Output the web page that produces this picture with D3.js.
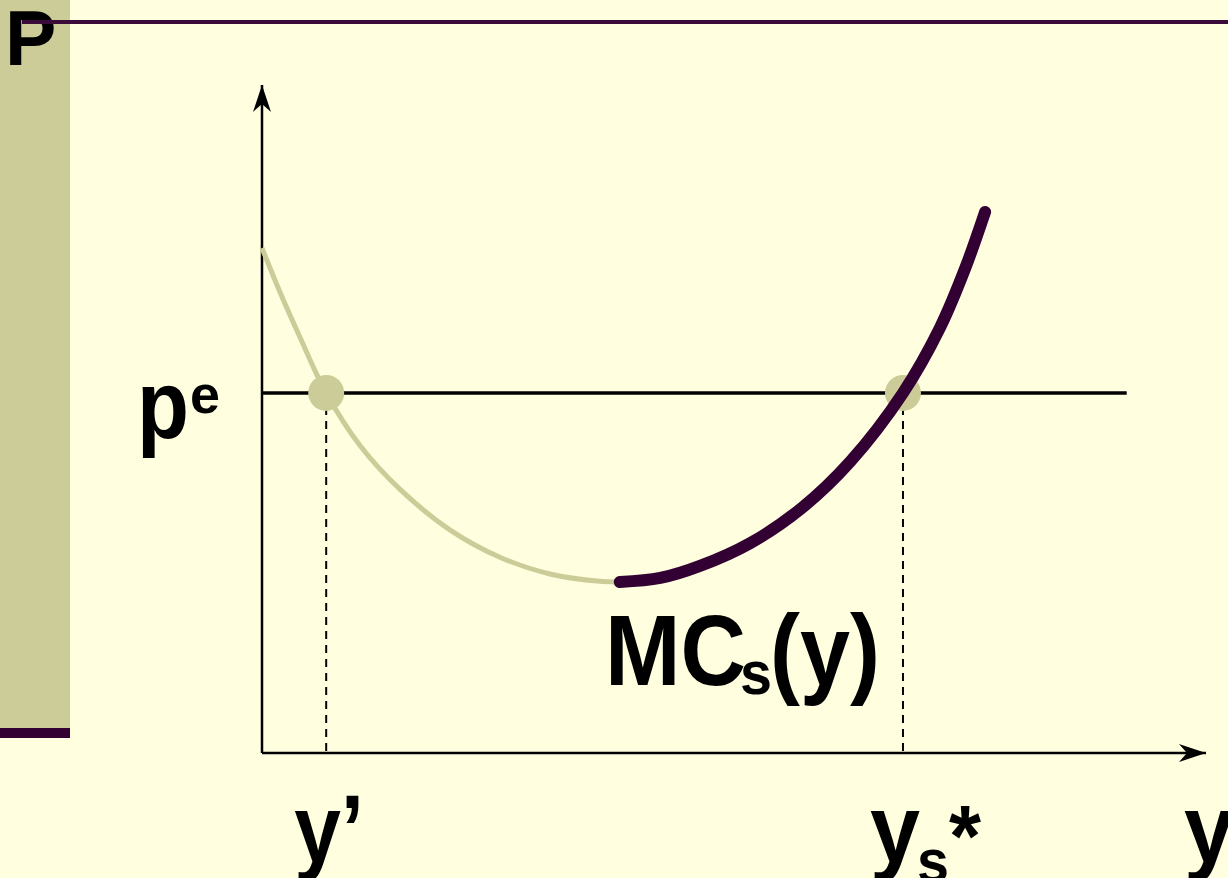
<!DOCTYPE html>
<html>
<head>
<meta charset="utf-8">
<script src="https://cdn.jsdelivr.net/npm/d3@7/dist/d3.min.js"></script>
<style>
  html, body { margin: 0; padding: 0; background: #FFFFE0; }
  svg { display: block; }
  text { font-family: "Liberation Sans", Arial, Helvetica, sans-serif; font-weight: bold; fill: #000; }
</style>
</head>
<body>
<svg id="chart" width="1228" height="878"></svg>
<script>
// Short-run marginal cost curve MC_s(y), in quantity / price units
const mcQuantity = [0, 1.9, 4.0, 6.8, 10.4, 14.6, 19.9, 25.2, 30.5, 35.8, 37.9,
                    42.2, 46.4, 51.7, 57.2, 62.3, 67.9, 71.8, 74.5, 76.6];
const mcPrice    = [75.6, 69.0, 62.3, 53.9, 46.0, 39.5, 33.4, 29.3, 26.8, 25.7, 25.6,
                    26.2, 28.0, 31.4, 36.7, 43.6, 53.9, 63.6, 72.6, 81.0];
// index where the supply (rising) branch of MC begins
const supplyStartIndex = 10;

// expected price level p^e and where it meets MC
const expectedPrice = 53.9;
const priceLineEnd = 91.6;
const tickNames  = ["y’", "ys*"];
const tickValues = [6.8, 67.9];

const svg = d3.select("#chart");
const W = 1228, H = 878;

const x = d3.scaleLinear().domain([0, 100]).range([262, 1206]);
const y = d3.scaleLinear().domain([0, 100]).range([753, 85]);

const dark = "#330033";
const khaki = "#CCCC99";

// slide frame: left band, bottom accent, top rule
svg.append("rect").attr("x", 0).attr("y", 0).attr("width", W).attr("height", H).attr("fill", "#FFFFE0");
svg.append("rect").attr("x", 0).attr("y", 0).attr("width", 70).attr("height", 728).attr("fill", khaki);
svg.append("rect").attr("x", 0).attr("y", 728).attr("width", 70).attr("height", 10).attr("fill", dark);

svg.append("text").attr("x", 5).attr("y", 65).attr("font-size", 77).text("P");
svg.append("line").attr("x1", 22).attr("x2", W).attr("y1", 22).attr("y2", 22)
  .attr("stroke", "#3a0a3a").attr("stroke-width", 4);

// arrowhead marker for the axes
const defs = svg.append("defs");
defs.append("marker")
  .attr("id", "arrow")
  .attr("viewBox", "-28 -10 30 20")
  .attr("refX", 0).attr("refY", 0)
  .attr("markerWidth", 30).attr("markerHeight", 20)
  .attr("markerUnits", "userSpaceOnUse")
  .attr("orient", "auto")
  .append("path")
  .attr("d", "M0,0 L-27,-9 L-19,0 L-27,9 Z")
  .attr("fill", "#000");

// axes
svg.append("line")
  .attr("x1", x(0)).attr("y1", y(0)).attr("x2", x(0)).attr("y2", y(100))
  .attr("stroke", "#000").attr("stroke-width", 2.5).attr("marker-end", "url(#arrow)");
svg.append("line")
  .attr("x1", x(0)).attr("y1", y(0)).attr("x2", x(100)).attr("y2", y(0))
  .attr("stroke", "#000").attr("stroke-width", 2.5).attr("marker-end", "url(#arrow)");

// expected price line
svg.append("line")
  .attr("x1", x(0)).attr("x2", x(priceLineEnd))
  .attr("y1", y(expectedPrice)).attr("y2", y(expectedPrice))
  .attr("stroke", "#000").attr("stroke-width", 3.5);

// dashed drop lines to the quantity axis
svg.selectAll(".drop").data(tickValues).join("line")
  .attr("class", "drop")
  .attr("x1", d => x(d)).attr("x2", d => x(d))
  .attr("y1", y(expectedPrice)).attr("y2", y(0))
  .attr("stroke", "#000").attr("stroke-width", 2)
  .attr("stroke-dasharray", "8,6");

const pts = mcQuantity.map((q, i) => [q, mcPrice[i]]);
const line = d3.line().x(d => x(d[0])).y(d => y(d[1])).curve(d3.curveCatmullRom.alpha(0.5));

// falling part of MC, drawn light
svg.append("path")
  .attr("d", line(pts.slice(0, supplyStartIndex + 1)))
  .attr("fill", "none").attr("stroke", khaki).attr("stroke-width", 5);

// intersection markers
svg.selectAll(".hit").data(tickValues).join("circle")
  .attr("class", "hit")
  .attr("cx", d => x(d)).attr("cy", y(expectedPrice)).attr("r", 18)
  .attr("fill", khaki);

// supply branch of MC
svg.append("path")
  .attr("d", line(pts.slice(supplyStartIndex)))
  .attr("fill", "none").attr("stroke", dark).attr("stroke-width", 12)
  .attr("stroke-linecap", "round");

// helper: condensed bold label
function label(xp, yp, size, str, len) {
  const t = svg.append("text").attr("x", xp).attr("y", yp).attr("font-size", size).text(str);
  if (len) t.attr("textLength", len).attr("lengthAdjust", "spacingAndGlyphs");
  return t;
}

// price label p^e
const py = y(expectedPrice);
label(137, py + 45, 96, "p", 52);
label(190, py + 20, 54, "e", 30);

// curve label MC_s(y)
label(605, 685, 101, "MC", 141);
label(740, 694, 62, "s", 32);
label(770, 685, 101, "(y)", 110);

// quantity labels
label(x(tickValues[0]) - 32, 862, 96, tickNames[0], 70);
label(x(tickValues[1]) - 33, 862, 96, "y", 50);
label(x(tickValues[1]) + 14, 882, 62, "s", 32);
label(x(tickValues[1]) + 46, 866, 88, "*", 32);
label(1184, 862, 96, "y", 50);
</script>
</body>
</html>
